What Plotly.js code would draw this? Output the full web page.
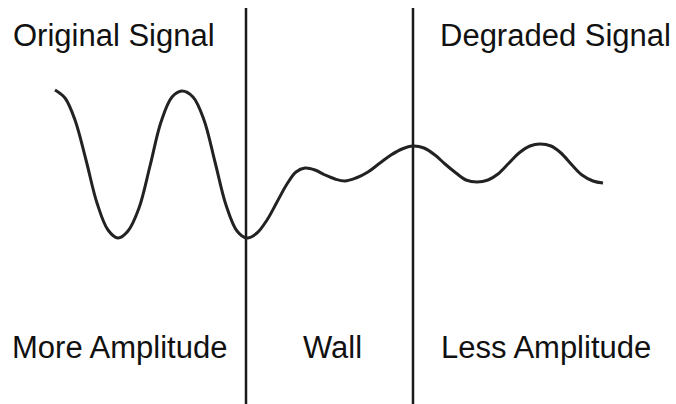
<!DOCTYPE html>
<html>
<head>
<meta charset="utf-8">
<script src="https://cdn.plot.ly/plotly-3.0.1.min.js"></script>
<style>html,body{margin:0;padding:0;background:#fff;}#chart{width:676px;height:404px;}</style>
</head>
<body>
<div id="chart"></div>
<script>
// Signal waveform (horizontal position, vertical level; y grows downward)
const signalX = [55, 65, 75, 86, 97, 108, 118, 128, 139, 150, 161, 172, 182, 193, 204, 215, 226, 237, 247,
                 257, 267, 277, 287, 296, 305, 315, 325, 335, 345, 356, 368, 380, 391, 402, 413,
                 424, 435, 445, 456, 466, 477, 488, 498, 509, 519, 530, 540, 551, 561, 572, 582, 593, 603];
const signalY = [90, 98, 120, 160, 203, 230, 238, 231, 208, 166, 122, 97, 91, 97, 120, 162, 205, 231, 238,
                 233, 220, 202, 184, 172, 168, 170, 175, 179, 181, 178, 172, 163, 155, 149, 146,
                 148, 155, 164, 173, 180, 182, 180, 174, 163, 153, 146, 144, 146, 153, 165, 175, 181, 183];

// Wall boundaries
const wallX = [246, 413];
const wallTop = 8;
const wallBottom = 404;

// Labels
const labelText = ["Original Signal", "Degraded Signal", "More Amplitude", "Wall", "Less Amplitude"];
const labelX = [114, 555, 119, 332, 546];
const labelY = [35, 35, 347, 347, 347];

const traces = [];
wallX.forEach(function (x) {
  traces.push({
    x: [x, x], y: [wallTop, wallBottom], mode: 'lines',
    line: {color: '#1a1a1a', width: 2.5}, hoverinfo: 'skip', showlegend: false
  });
});
traces.push({
  x: signalX, y: signalY, mode: 'lines',
  line: {color: '#222', width: 3, shape: 'spline', smoothing: 1},
  hoverinfo: 'skip', showlegend: false
});

const annotations = labelText.map(function (t, i) {
  return {
    x: labelX[i], y: labelY[i], xref: 'x', yref: 'y', text: t, showarrow: false,
    xanchor: 'center', yanchor: 'middle',
    font: {family: 'Liberation Sans, Arial, sans-serif', size: 31, color: '#111'}
  };
});

const layout = {
  width: 676, height: 404,
  margin: {l: 0, r: 0, t: 0, b: 0},
  paper_bgcolor: '#fff', plot_bgcolor: '#fff',
  xaxis: {range: [0, 676], visible: false, fixedrange: true},
  yaxis: {range: [404, 0], visible: false, fixedrange: true},
  annotations: annotations,
  showlegend: false
};

Plotly.newPlot('chart', traces, layout, {staticPlot: true, displayModeBar: false});
</script>
</body>
</html>
